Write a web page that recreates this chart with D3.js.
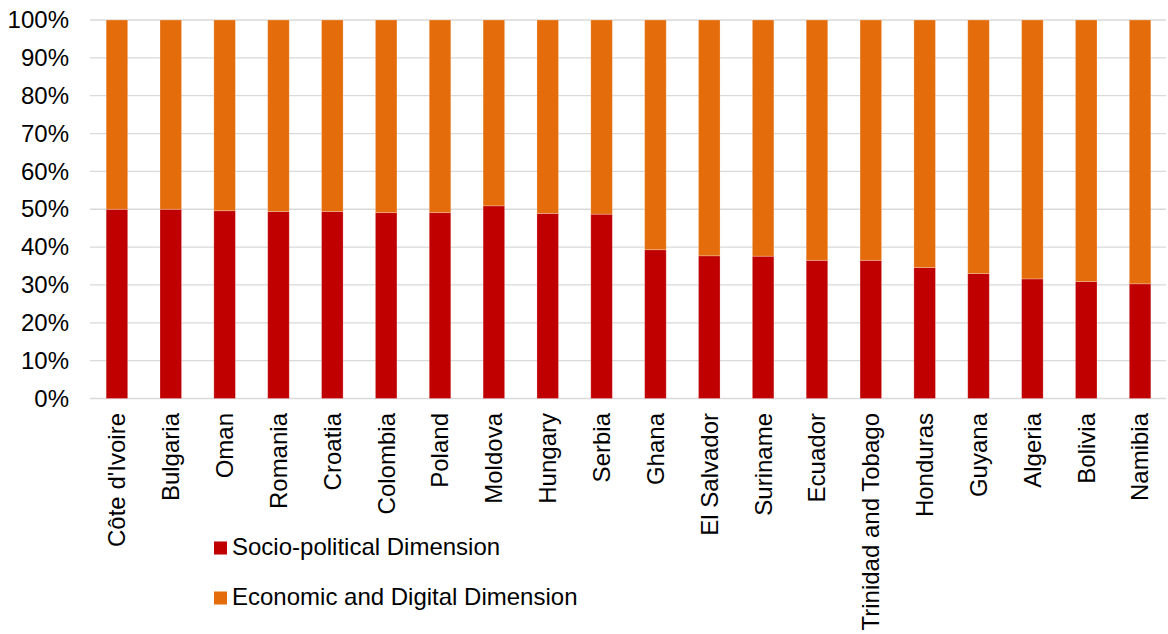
<!DOCTYPE html>
<html>
<head>
<meta charset="utf-8">
<script src="https://cdn.jsdelivr.net/npm/d3@7"></script>
<style>
  html, body { margin: 0; padding: 0; background: #fff; }
  svg { display: block; font-family: "Liberation Sans", Arial, sans-serif; }
</style>
</head>
<body>
<svg id="chart" width="1168" height="634"></svg>
<script>
const categories = ["Côte d'Ivoire", "Bulgaria", "Oman", "Romania", "Croatia", "Colombia", "Poland", "Moldova", "Hungary", "Serbia", "Ghana", "El Salvador", "Suriname", "Ecuador", "Trinidad and Tobago", "Honduras", "Guyana", "Algeria", "Bolivia", "Namibia"];
const socioPolitical = [50.0, 50.0, 49.6, 49.4, 49.4, 49.1, 49.1, 50.9, 48.9, 48.7, 39.3, 37.7, 37.6, 36.5, 36.5, 34.6, 33.0, 31.6, 30.9, 30.3];
const economicDigital = [50.0, 50.0, 50.4, 50.6, 50.6, 50.9, 50.9, 49.1, 51.1, 51.3, 60.7, 62.3, 62.4, 63.5, 63.5, 65.4, 67.0, 68.4, 69.1, 69.7];
const seriesNames = ["Socio-political Dimension", "Economic and Digital Dimension"];
const seriesColors = ["#C00000", "#E46C0A"];
const yTicks = [0, 10, 20, 30, 40, 50, 60, 70, 80, 90, 100];

const svg = d3.select("#chart");
const fontSize = 24;

const x = d3.scaleBand().domain(categories).range([90, 1167]).paddingInner(0.6).paddingOuter(0.3);
const y = d3.scaleLinear().domain([0, 100]).range([398.5, 20]);

// gridlines
svg.append("g").selectAll("line").data(yTicks).join("line")
  .attr("x1", 90).attr("x2", 1166)
  .attr("y1", d => y(d)).attr("y2", d => y(d))
  .attr("stroke", "#d9d9d9").attr("stroke-width", 1.3);

// y axis labels
const yAxis = d3.axisLeft(y).tickValues(yTicks).tickFormat(d => d + "%").tickSize(0).tickPadding(0);
const yg = svg.append("g").attr("transform", "translate(69,0)").call(yAxis);
yg.select(".domain").remove();
yg.selectAll("text").attr("font-size", fontSize).attr("fill", "#000")
  .attr("font-family", "Liberation Sans, Arial, sans-serif");

// stacked data
const rows = categories.map((c, i) => ({cat: c, s0: socioPolitical[i], s1: economicDigital[i]}));
const stack = d3.stack().keys(["s0", "s1"]);
const stacked = stack(rows);

svg.append("g").selectAll("g").data(stacked).join("g")
  .attr("fill", (d, i) => seriesColors[i])
  .selectAll("rect").data(d => d).join("rect")
  .attr("x", d => x(d.data.cat))
  .attr("width", x.bandwidth())
  .attr("y", d => y(d[1]))
  .attr("height", d => y(d[0]) - y(d[1]))
  .attr("stroke", "#ffffff").attr("stroke-opacity", 0.3).attr("stroke-width", 0.8);

// x labels
const xAxis = d3.axisBottom(x).tickSize(0).tickPadding(0);
const xg = svg.append("g").attr("transform", "translate(0,413)").call(xAxis);
xg.select(".domain").remove();
xg.selectAll("text")
  .attr("font-size", fontSize).attr("fill", "#000")
  .attr("font-family", "Liberation Sans, Arial, sans-serif")
  .attr("transform", "rotate(-90)")
  .attr("text-anchor", "end")
  .attr("x", 0).attr("y", 0).attr("dy", "0.35em");

// legend
const legend = svg.append("g");
const legendY = [548, 598];
seriesNames.forEach((name, i) => {
  legend.append("rect").attr("x", 214).attr("y", legendY[i] - 6.5).attr("width", 13).attr("height", 13)
    .attr("fill", seriesColors[i]);
  legend.append("text").attr("x", 232).attr("y", legendY[i] + 7)
    .attr("font-size", fontSize).attr("fill", "#000").text(name);
});
</script>
</body>
</html>
